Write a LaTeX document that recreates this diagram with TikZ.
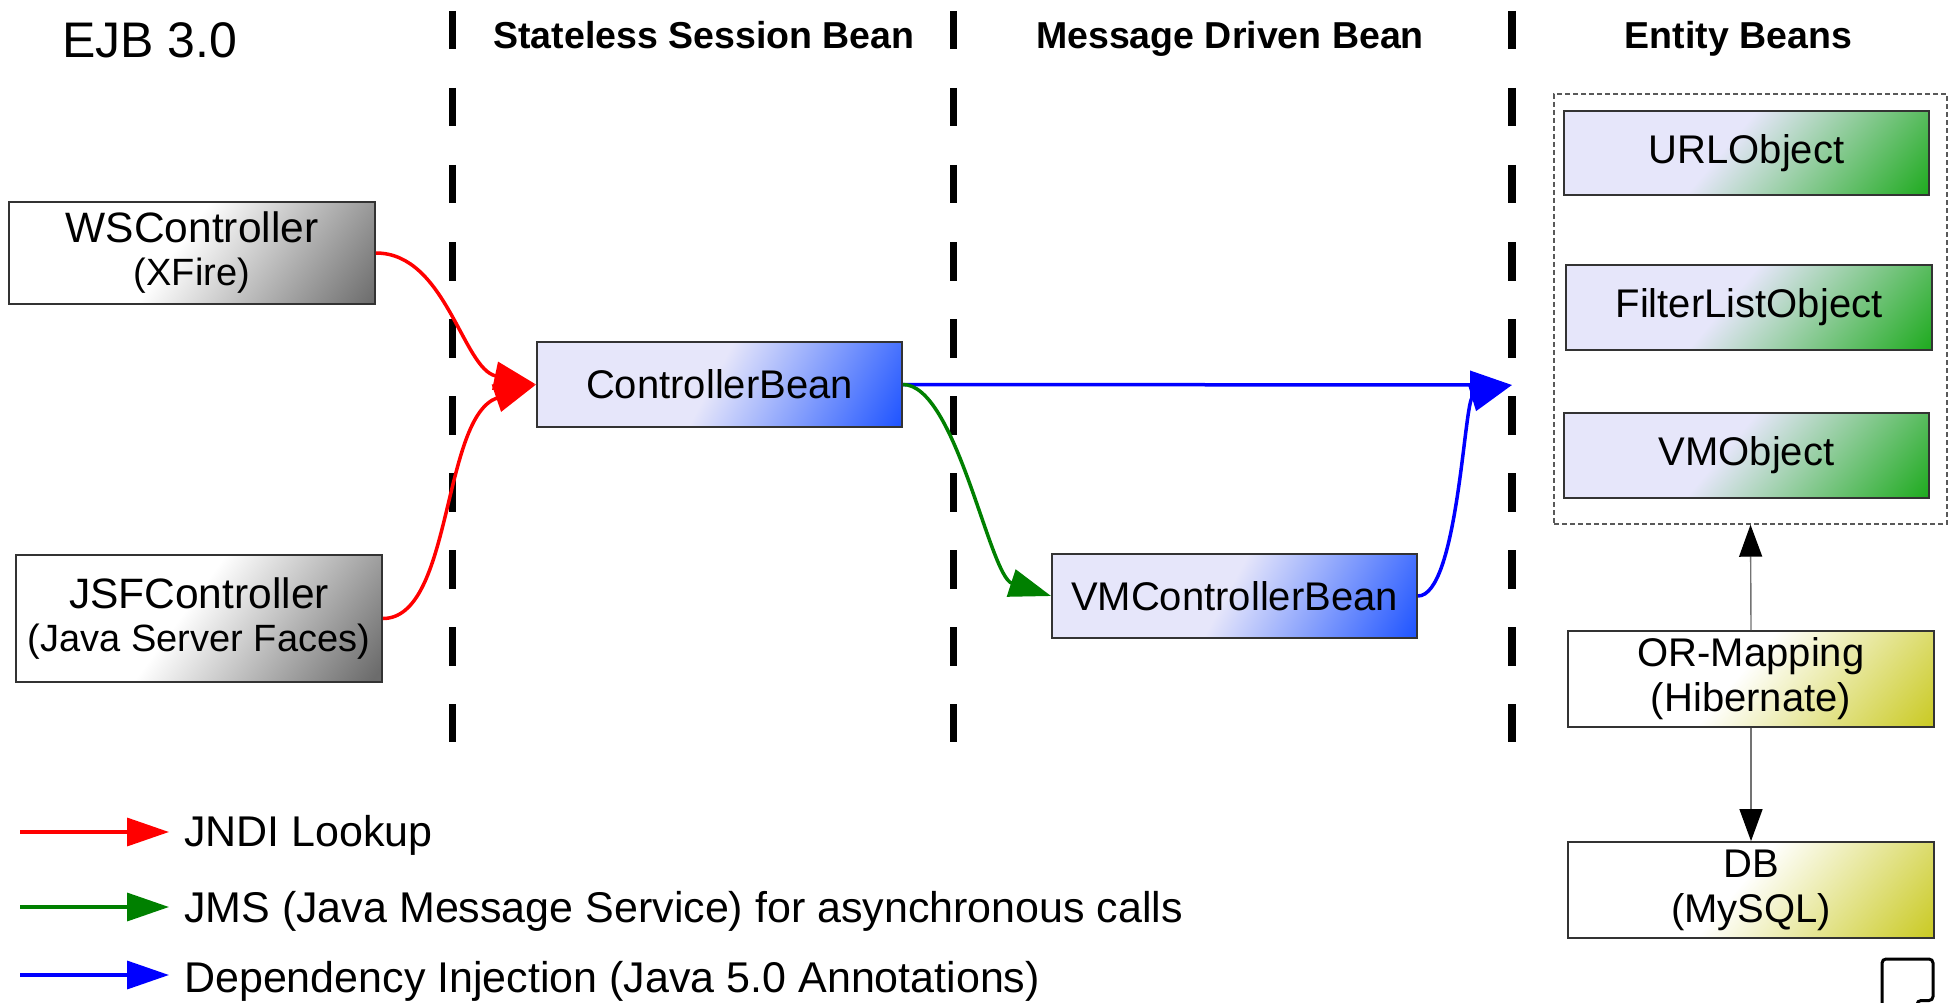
\documentclass[tikz,border=0pt]{standalone}
\usepackage{fontspec}
\setmainfont{Liberation Sans}
\usetikzlibrary{arrows.meta}

\definecolor{lav}{HTML}{E6E6FA}
\definecolor{grayend}{HTML}{6C6C6C}
\definecolor{blueend}{HTML}{1F54FF}
\definecolor{greenend}{HTML}{1DAA1D}
\definecolor{yellowend}{HTML}{C8C81C}
\definecolor{jndired}{HTML}{FF0000}
\definecolor{jmsgreen}{HTML}{008000}
\definecolor{diblue}{HTML}{0000FF}

% diagonal fills: flat on the left, darkening towards the lower right corner
\pgfdeclarehorizontalshading{shgray}{100bp}{color(0bp)=(white); color(48bp)=(white); color(72bp)=(grayend); color(100bp)=(grayend)}
\pgfdeclarehorizontalshading{shblue}{100bp}{color(0bp)=(lav); color(49bp)=(lav); color(72.5bp)=(blueend); color(100bp)=(blueend)}
\pgfdeclarehorizontalshading{shgreen}{100bp}{color(0bp)=(lav); color(47.5bp)=(lav); color(71bp)=(greenend); color(100bp)=(greenend)}
\pgfdeclarehorizontalshading{shyellow}{100bp}{color(0bp)=(white); color(48.5bp)=(white); color(72bp)=(yellowend); color(100bp)=(yellowend)}

\newcommand{\subtextsize}{\fontsize{38}{43}\selectfont}

\tikzset{
  beanbox/.style={draw=black!80, line width=1.8pt, inner sep=0pt, align=center,
    font=\fontsize{40}{45}\selectfont},
  diagfill/.style 2 args={path picture={
    \shade[shading=#1, shading angle=#2]
      ([shift={(-200,-200)}]path picture bounding box.center) rectangle
      ([shift={(200,200)}]path picture bounding box.center);}},
  graybox/.style={beanbox, diagfill={shgray}{-36}, font=\fontsize{42.5}{43}\selectfont},
  bluebox/.style={beanbox, diagfill={shblue}{-28}},
  greenbox/.style={beanbox, diagfill={shgreen}{-40}},
  yellowbox/.style={beanbox, diagfill={shyellow}{-40}},
  lane/.style={line width=7.5pt, dash pattern=on 38.5pt off 38.5pt},
  header/.style={anchor=base, inner sep=0pt, font=\fontsize{37.5}{40}\selectfont\bfseries},
  legendtext/.style={anchor=base west, inner sep=0pt, font=\fontsize{43}{46}\selectfont},
  tip/.style={-{Triangle[length=42pt,width=28pt]}},
  flow/.style={line width=3.5pt, tip},
  jndi/.style={flow, draw=jndired},
  jms/.style={flow, draw=jmsgreen},
  inject/.style={flow, draw=diblue},
  dbflow/.style={draw=black!55, line width=1.4pt, -{Triangle[length=32pt,width=23pt,color=black]}},
}

\begin{document}
\begin{tikzpicture}[x=1pt, y=1pt]
\useasboundingbox (0,0) rectangle (1954,-1003);
\fill[white] (0,0) rectangle (1954,-1003);

% title and lane headers
\node[anchor=base west, inner sep=0pt, font=\fontsize{50}{54}\selectfont] (title) at (62,-58) {EJB 3.0};
\node[header] (hsess) at (704,-49) {Stateless Session Bean};
\node[header] (hmdb) at (1230,-49) {Message Driven Bean};
\node[header] (hent) at (1738.5,-49) {Entity Beans};

% lane separators
\draw[lane] (452.5,-11) -- (452.5,-742);
\draw[lane] (953.5,-11) -- (953.5,-742);
\draw[lane] (1512,-11) -- (1512,-742);

% clients
\node[graybox, minimum width=366pt, minimum height=102pt] (ws) at (192,-253)
  {WSController\\{\subtextsize (XFire)}};
\node[graybox, minimum width=366pt, minimum height=127pt] (jsf) at (199,-618.5)
  {JSFController\\{\subtextsize (Java Server Faces)}};

% session and message driven beans
\node[bluebox, minimum width=365pt, minimum height=85pt] (cb) at (719.5,-384.5) {ControllerBean};
\node[bluebox, minimum width=365pt, minimum height=84pt] (vmcb) at (1234.5,-596) {VMControllerBean};

% entity beans
\node[draw=black!65, line width=1.4pt, dash pattern=on 5pt off 3pt,
      minimum width=393pt, minimum height=430pt, inner sep=0pt] (ent) at (1750.5,-309) {};
\node[greenbox, minimum width=365pt, minimum height=84pt] (url) at (1746.5,-153) {URLObject};
\node[greenbox, minimum width=366pt, minimum height=85pt] (flo) at (1749,-307.5) {FilterListObject};
\node[greenbox, minimum width=365pt, minimum height=85pt] (vmo) at (1746.5,-455.5) {VMObject};

% persistence
\node[yellowbox, minimum width=366pt, minimum height=96pt] (orm) at (1751,-679)
  {OR-Mapping\\(Hibernate)};
\node[yellowbox, minimum width=366pt, minimum height=96pt] (db) at (1751,-890)
  {DB\\(MySQL)};

% connectors
\coordinate (ditip) at (1512,-385);
\draw[jndi] (ws.east) to[out=0, in=168, out distance=70pt, in distance=75pt] (cb.west);
\draw[jndi] (jsf.east) to[out=0, in=199, out distance=70pt, in distance=100pt] (cb.west);
\draw[inject] (cb.east) -- (ditip);
\draw[jms] (cb.east) to[out=0, in=162, out distance=53pt, in distance=65pt] (vmcb.west);
\draw[inject] (vmcb.east) to[out=0, in=197, out distance=40pt, in distance=50pt] (ditip);
\draw[dbflow] (orm.north) -- (ent.south);
\draw[dbflow] (orm.south) -- (db.north);

% legend
\coordinate (l1s) at (20,-832);   \coordinate (l1e) at (169,-832);
\coordinate (l2s) at (20,-907);   \coordinate (l2e) at (169,-907);
\coordinate (l3s) at (20,-975);   \coordinate (l3e) at (169,-975);
\draw[jndi] (l1s) -- (l1e);
\draw[jms] (l2s) -- (l2e);
\draw[inject] (l3s) -- (l3e);
\node[legendtext] (t1) at (184,-846) {JNDI Lookup};
\node[legendtext] (t2) at (184,-922) {JMS (Java Message Service) for asynchronous calls};
\node[legendtext] (t3) at (184,-992) {Dependency Injection (Java 5.0 Annotations)};

% page mark in the lower right corner
\draw[line width=3pt, rounded corners=4pt]
  (1882,-1004) -- (1882,-959) -- (1933,-959) -- (1933,-1000.5) -- (1917,-1000.5) -- (1917,-1004);
\end{tikzpicture}
\end{document}
